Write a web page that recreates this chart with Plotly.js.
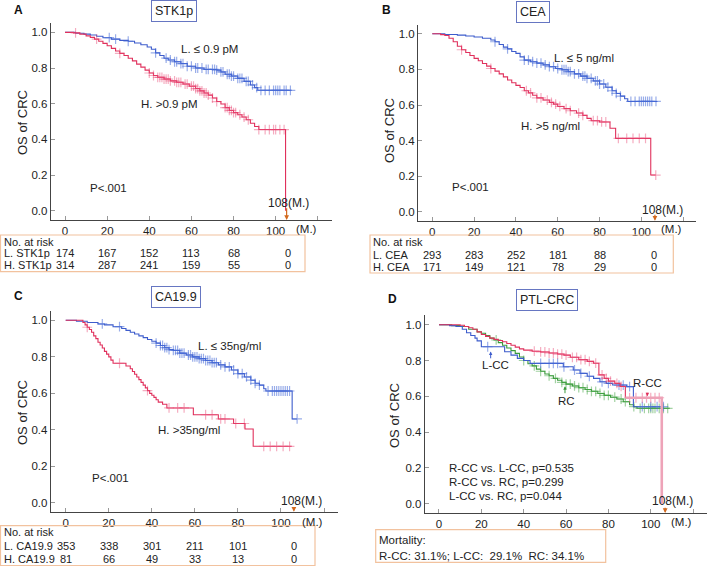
<!DOCTYPE html>
<html><head><meta charset="utf-8">
<script src="https://cdn.plot.ly/plotly-3.0.1.min.js"></script>
<style>html,body{margin:0;padding:0;background:#fff}#chart{width:708px;height:566px}</style>
</head><body><div id="chart"></div>
<script>
// ---------------- DATA ----------------
const panelLetters = ['A','B','C','D'];
const panelTitles = ['STK1p','CEA','CA19.9','PTL-CRC'];
const xTickVals = [0,20,40,60,80,100,120];
const xTickText = ['0','20','40','60','80','100',''];
const yTickVals = [0,0.2,0.4,0.6,0.8,1.0];
const yTickText = ['0.0','0.2','0.4','0.6','0.8','1.0'];
const riskTimes = [0,20,40,60,80,106];

// Panel A: STK1p
const A_L_t = [0,5,9,12,15,18,22,26,30,33,36,39,41,43,45,47,49,52,55,58,62,66,72,74,76,79,82,85,88,90,91.5,107.6];
const A_L_s = [1.0,0.995,0.99,0.985,0.978,0.97,0.962,0.955,0.95,0.94,0.93,0.918,0.905,0.885,0.87,0.855,0.845,0.835,0.825,0.81,0.8,0.792,0.788,0.778,0.765,0.755,0.742,0.725,0.705,0.69,0.675,0.675];
const A_H_t = [0,4,7,10,12,14,16,18,20,22,24,26,28,30,32,34,36,38,40,42,44,47,50,53,56,59,62,64,66,68,70,72,74,76,78,80,82,84,86,88,90,92,104.7];
const A_H_s = [1.0,0.997,0.99,0.98,0.972,0.962,0.95,0.938,0.925,0.91,0.895,0.882,0.87,0.855,0.84,0.822,0.805,0.788,0.772,0.758,0.748,0.738,0.728,0.72,0.71,0.698,0.685,0.672,0.66,0.648,0.632,0.612,0.598,0.578,0.562,0.55,0.538,0.525,0.51,0.49,0.472,0.455,0];
const A_L_cens = [21,24,30,43,48,50,52,53,55,56,58,60,62,63,65,67,68,70,71,72,74,75,77,78,79,80,82,83,84,86,87,89,91,93,95,97,99,100,101,102,104,105,107];
const A_H_cens = [5,15,26,40,42,44,45,46,47,48,49,50,52,53,54,55,57,58,60,61,62,63,64,65,66,67,68,70,72,76,77,78,79,80,81,83,85,87,92,95,97,99,100,102,104];
const A_riskL = [174,167,152,113,68,0];
const A_riskH = [314,287,241,159,55,0];

// Panel B: CEA
const B_L_t = [0,6,12,16,20,24,28,30,32,34,36,38,40,42,44,47,50,53,56,59,62,65,68,71,74,77,80,83,86,88,90,92,93.5,107.7];
const B_L_s = [1.0,0.996,0.992,0.987,0.982,0.975,0.965,0.955,0.94,0.925,0.915,0.9,0.89,0.87,0.852,0.843,0.835,0.825,0.815,0.805,0.798,0.787,0.775,0.762,0.75,0.735,0.718,0.7,0.68,0.665,0.65,0.635,0.62,0.62];
const B_H_t = [0,4,6,8,10,12,14,16,18,20,22,24,26,28,30,32,34,36,38,40,42,44,46,48,50,53,56,58,60,63,66,69,72,74,76,80,85,87.7,104.5,106.9];
const B_H_s = [1.0,0.995,0.99,0.975,0.955,0.93,0.91,0.895,0.878,0.862,0.848,0.833,0.818,0.805,0.79,0.775,0.758,0.74,0.725,0.71,0.698,0.68,0.668,0.655,0.64,0.628,0.615,0.605,0.592,0.58,0.568,0.555,0.542,0.525,0.512,0.505,0.47,0.413,0.207,0.207];
const B_L_cens = [30,36,44,46,48,50,52,54,56,58,60,62,63,64,65,66,68,70,72,73,74,76,78,79,80,82,84,86,88,90,95,97,99,100,101,102,103,104,105,107];
const B_H_cens = [14,28,45,47,50,52,55,57,59,61,64,66,70,72,77,79,81,83,89,93,96,99,102,106.9];
const B_riskL = [293,283,252,181,88,0];
const B_riskH = [171,149,121,78,29,0];

// Panel C: CA19.9
const C_L_t = [0,5,10,15,18,22,26,28,30,32,34,36,38,40,42,44,46,48,50,53,56,59,62,65,68,71,74,77,80,83,86,88,90,92,93,105.2,107.5];
const C_L_s = [1.0,0.995,0.988,0.98,0.975,0.965,0.955,0.945,0.935,0.925,0.915,0.905,0.895,0.885,0.875,0.862,0.85,0.84,0.835,0.82,0.81,0.8,0.79,0.78,0.768,0.756,0.745,0.728,0.708,0.69,0.672,0.655,0.645,0.625,0.613,0.46,0.46];
const C_H_t = [0,8,9,10,11,12,13,14,15,16,17,18,19,20,21,22,28,30,31,32,33,34,35,36,37,38,39,40,41,42,43,45,47,59.3,70.9,78,83.3,87.1,105];
const C_H_s = [1.0,0.988,0.975,0.962,0.95,0.935,0.915,0.9,0.88,0.865,0.848,0.83,0.815,0.8,0.782,0.765,0.75,0.735,0.72,0.705,0.69,0.675,0.66,0.645,0.63,0.615,0.6,0.59,0.578,0.565,0.552,0.54,0.52,0.483,0.46,0.435,0.405,0.31,0.31];
const C_L_cens = [17,25,42,44,45,46,47,48,50,51,52,53,54,55,57,58,59,60,61,62,63,64,65,66,67,68,69,70,72,74,76,78,80,82,84,86,88,90,94,96,97,98,99,100,101,102,103,104,107.5];
const C_H_cens = [10,25,38,48,52,55,65,68,72,74,79,83,92,95,98,101,104];
const C_riskL = [353,338,301,211,101,0];
const C_riskH = [81,66,49,33,13,0];

// Panel D: PTL-CRC
const D_R_t = [0,10,12,14,16,18,20,22,24,26,28,30,32,34,36,38,40,44,48,52,56,59,62,66,70,73,75.5,78,80,83,85.5,88,105.2];
const D_R_s = [1.0,0.997,0.99,0.983,0.975,0.96,0.945,0.935,0.925,0.918,0.912,0.905,0.895,0.885,0.875,0.865,0.858,0.852,0.848,0.842,0.836,0.83,0.818,0.805,0.795,0.785,0.72,0.7,0.685,0.672,0.655,0.592,0];
const D_L_t = [0,5,8,11,13,15,17,18,20,31,34,37,40,43,58.7,63.4,66.6,70,73,76,79,82,88.6,91.8,106];
const D_L_s = [1.0,0.995,0.99,0.975,0.955,0.94,0.925,0.91,0.877,0.849,0.83,0.812,0.8,0.784,0.765,0.747,0.728,0.712,0.7,0.681,0.672,0.663,0.654,0.542,0.542];
const D_G_t = [0,6,10,14,18,20,22,24,26,28,30,32,34,36,38,40,42,44,46,48,50,52,54,56,58,60,63,66,69,72,75,78,81,84,87,90,92,93.5,109];
const D_G_s = [1.0,0.995,0.99,0.975,0.96,0.952,0.94,0.925,0.915,0.9,0.885,0.87,0.855,0.84,0.82,0.8,0.782,0.77,0.752,0.74,0.725,0.715,0.7,0.69,0.678,0.668,0.658,0.648,0.638,0.628,0.616,0.605,0.595,0.585,0.57,0.553,0.542,0.533,0.533];
const D_R_cens = [45,48,50,52,54,56,58,60,63,65,67,69,71,74,77,79,81,84,86,90,93,96,98,100,102,104];
const D_L_cens = [23,48,52,54,56,59,64,67,71,77,80,85,87,90,96,100,103,106];
const D_G_cens = [27,40,45,48,52,55,58,60,62,64,66,68,70,72,74,76,78,80,83,86,88,92,95,97,99,100,101,102,104,106,108];

// ---------------- DRAWING ----------------
const FONT = 'Liberation Sans, Arial, Helvetica, sans-serif';
const W = 708, H = 566;
const px = x => x / W, py = y => 1 - y / H;
const blue = '#3d5ccc', red = '#e0305c', green = '#3a9a3c';
const blueC = 'rgba(70,105,215,0.55)', redC = 'rgba(232,70,115,0.45)', greenC = 'rgba(70,165,70,0.5)';
const pink = '#eea3b8';

function stepAt(t, ts, ss) { let v = ss[0]; for (let i = 0; i < ts.length; i++) { if (ts[i] <= t) v = ss[i]; else break; } return v; }
function curve(ts, ss, color, ax, w) {
  return {type:'scatter', mode:'lines', x:ts, y:ss, xaxis:'x'+ax, yaxis:'y'+ax,
    line:{shape:'hv', color:color, width:w||1.1}, hoverinfo:'skip', showlegend:false};
}
function censor(cs, ts, ss, color, ax) {
  return {type:'scatter', mode:'markers', x:cs, y:cs.map(t => stepAt(t, ts, ss)), xaxis:'x'+ax, yaxis:'y'+ax,
    marker:{symbol:'cross-thin', size:7, color:color, line:{color:color, width:1.2}}, hoverinfo:'skip', showlegend:false};
}

const traces = [
  curve(A_L_t, A_L_s, blue, ''), censor(A_L_cens, A_L_t, A_L_s, blueC, ''),
  curve(A_H_t, A_H_s, red, ''), censor(A_H_cens, A_H_t, A_H_s, redC, ''),
  curve(B_L_t, B_L_s, blue, '2'), censor(B_L_cens, B_L_t, B_L_s, blueC, '2'),
  curve(B_H_t, B_H_s, red, '2'), censor(B_H_cens, B_H_t, B_H_s, redC, '2'),
  curve(C_L_t, C_L_s, blue, '3'), censor(C_L_cens, C_L_t, C_L_s, blueC, '3'),
  curve(C_H_t, C_H_s, red, '3'), censor(C_H_cens, C_H_t, C_H_s, redC, '3'),
  curve(D_G_t, D_G_s, green, '4'), censor(D_G_cens, D_G_t, D_G_s, greenC, '4'),
  curve(D_L_t, D_L_s, blue, '4'), censor(D_L_cens, D_L_t, D_L_s, blueC, '4'),
  curve(D_R_t.slice(0, -1), D_R_s.slice(0, -1), red, '4'), censor(D_R_cens, D_R_t, D_R_s, redC, '4'),
  curve(D_R_t.slice(-2), D_R_s.slice(-2), pink, '4', 2.6)
];

const panels = [
  {id:'',  xd:[50.7,331.7],  yd:[220,22.7],   xr:[-6.8,126.6],  yr:[-0.052,1.054]},
  {id:'2', xd:[418,695.7],   yd:[220.7,25],   xr:[-6.84,126.0], yr:[-0.049,1.049]},
  {id:'3', xd:[50.7,338],    yd:[511.7,311],  xr:[-6.97,126.5], yr:[-0.048,1.051]},
  {id:'4', xd:[424.7,707.3], yd:[513,314.7],  xr:[-6.75,126.7], yr:[-0.052,1.056]}
];

const layout = {
  width: W, height: H, margin:{l:0,r:0,t:0,b:0}, paper_bgcolor:'#fff', plot_bgcolor:'#fff',
  font:{family:FONT, size:11.5, color:'#222'}, showlegend:false,
  annotations: [], shapes: []
};
panels.forEach(p => {
  layout['xaxis'+p.id] = {domain:[px(p.xd[0]), px(p.xd[1])], range:p.xr, anchor:'y'+p.id,
    showline:true, linecolor:'#444', linewidth:1, ticks:'inside', ticklen:4, tickcolor:'#999',
    tickvals:xTickVals, ticktext:xTickText, showgrid:false, zeroline:false,
    tickfont:{family:FONT, size:11.5, color:'#222'}, fixedrange:true};
  layout['yaxis'+p.id] = {domain:[py(p.yd[0]), py(p.yd[1])], range:p.yr, anchor:'x'+p.id,
    showline:true, linecolor:'#444', linewidth:1, ticks:'inside', ticklen:4, tickcolor:'#999',
    tickvals:yTickVals, ticktext:yTickText, showgrid:false, zeroline:false,
    tickfont:{family:FONT, size:11.5, color:'#222'}, fixedrange:true};
});

const A = layout.annotations, S = layout.shapes;
function txt(text, x, y, xref, yref, opts) {
  A.push(Object.assign({text:text, x:x, y:y, xref:xref, yref:yref, showarrow:false,
    font:{family:FONT, size:11.5, color:'#222'}, xanchor:'center', yanchor:'middle'}, opts||{}));
}
// panel letters & titles
const letterPos = [[18,10],[386,10],[18,296],[392,299]];
const titlePos = [[174,10.5],[533,11.5],[176,297],[547,300]];
panelLetters.forEach((l, i) => txt('<b>'+l+'</b>', px(letterPos[i][0]), py(letterPos[i][1]), 'paper', 'paper', {font:{family:FONT, size:12, color:'#111'}}));
panelTitles.forEach((t, i) => txt(t, px(titlePos[i][0]), py(titlePos[i][1]), 'paper', 'paper',
  {font:{family:FONT, size:12.5, color:'#222'}, bordercolor:'#6676c2', borderwidth:1, borderpad:3}));
// y-axis titles
const ytPos = [[22,123],[389,131],[22,413],[394,416]];
ytPos.forEach(p => txt('OS of CRC', px(p[0]), py(p[1]), 'paper', 'paper', {textangle:-90, font:{family:FONT, size:13, color:'#222'}}));
// (M.) unit labels
const mY = [229.3, 229.3, 522.3, 522.3];
panels.forEach((p, i) => txt('(M.)', 114.5, py(mY[i]), 'x'+p.id, 'paper'));
// 108(M.) labels and orange arrows
const m108 = [[106.3,0.043],[110,0.011],[109.6,0.009],[110.2,0.013]];
const arrowX = [105.2,106.5,106,106.8];
const arrowTail = [0.022,-0.007,-0.018,-0.014];
panels.forEach((p, i) => {
  txt('108(M.)', m108[i][0], m108[i][1], 'x'+p.id, 'y'+p.id, {font:{family:FONT, size:12, color:'#222'}});
  A.push({x:arrowX[i], y:p.yr[0], ax:arrowX[i], ay:arrowTail[i], xref:'x'+p.id, yref:'y'+p.id,
    axref:'x'+p.id, ayref:'y'+p.id, text:'', showarrow:true, arrowhead:2, arrowsize:0.8, arrowwidth:1.2, arrowcolor:'#d2691e'});
});
// curve labels
txt('L. \u2264 0.9 pM', 68.8, 0.906, 'x', 'y');
txt('H. &gt;0.9 pM', 49.8, 0.598, 'x', 'y');
txt('P&lt;.001', 20.4, 0.127, 'x', 'y');
txt('L. \u2264 5 ng/ml', 72.6, 0.864, 'x2', 'y2');
txt('H. &gt;5 ng/ml', 56.7, 0.482, 'x2', 'y2');
txt('P&lt;.001', 18.4, 0.142, 'x2', 'y2');
txt('L. \u2264 35ng/ml', 76.3, 0.858, 'x3', 'y3');
txt('H. &gt;35ng/ml', 57.3, 0.401, 'x3', 'y3');
txt('P&lt;.001', 20.6, 0.137, 'x3', 'y3');
txt('L-CC', 26.8, 0.777, 'x4', 'y4');
txt('RC', 60.3, 0.572, 'x4', 'y4');
txt('R-CC', 98.4, 0.674, 'x4', 'y4');
A.push({x:24.4, y:0.851, ax:24.4, ay:0.804, xref:'x4', yref:'y4', axref:'x4', ayref:'y4', text:'', showarrow:true, arrowhead:2, arrowsize:0.7, arrowwidth:1, arrowcolor:blue});
A.push({x:59.5, y:0.656, ax:59.5, ay:0.609, xref:'x4', yref:'y4', axref:'x4', ayref:'y4', text:'', showarrow:true, arrowhead:2, arrowsize:0.7, arrowwidth:1, arrowcolor:green});
A.push({x:98.4, y:0.6, ax:98.4, ay:0.628, xref:'x4', yref:'y4', axref:'x4', ayref:'y4', text:'', showarrow:true, arrowhead:2, arrowsize:0.7, arrowwidth:1, arrowcolor:red});
txt('R-CC vs. L-CC, p=0.535', 3.6, 0.2, 'x4', 'y4', {xanchor:'left'});
txt('R-CC vs. RC, p=0.299', 3.6, 0.12, 'x4', 'y4', {xanchor:'left'});
txt('L-CC vs. RC, p=0.044', 3.6, 0.041, 'x4', 'y4', {xanchor:'left'});

// risk tables
const tFont = {family:FONT, size:11, color:'#222'};
function riskTable(ax, leftPx, rowsY, labels, rows) {
  txt('No. at risk', px(leftPx), py(rowsY[0]), 'paper', 'paper', {xanchor:'left', font:tFont});
  rows.forEach((r, k) => {
    txt(labels[k], px(leftPx), py(rowsY[k+1]), 'paper', 'paper', {xanchor:'left', font:tFont});
    r.forEach((v, j) => txt(String(v), riskTimes[j], py(rowsY[k+1]), ax, 'paper', {font:tFont}));
  });
}
riskTable('x', 1.5, [241.7,253.3,265], ['L. STK1p','H. STK1p'], [A_riskL, A_riskH]);
riskTable('x2', 371, [242.5,255,266.5], ['L. CEA','H. CEA'], [B_riskL, B_riskH]);
riskTable('x3', 1.5, [532,546.3,559], ['L. CA19.9','H. CA19.9'], [C_riskL, C_riskH]);
txt('Mortality:', px(377), py(539.7), 'paper', 'paper', {xanchor:'left'});
txt('R-CC: 31.1%; L-CC: \u00a029.1% \u00a0RC: 34.1%', px(377), py(556.3), 'paper', 'paper', {xanchor:'left'});

const boxes = [[0.5,235,305,271.7],[370,235,673.3,273],[0.5,525.7,315,565.5],[375.7,529.7,605.7,562.3]];
boxes.forEach(b => S.push({type:'rect', xref:'paper', yref:'paper', x0:px(b[0]), x1:px(b[2]), y0:py(b[3]), y1:py(b[1]),
  line:{color:'#f2c29e', width:1.2}, fillcolor:'rgba(0,0,0,0)'}));

Plotly.newPlot('chart', traces, layout, {staticPlot:true, displayModeBar:false});
</script></body></html>
